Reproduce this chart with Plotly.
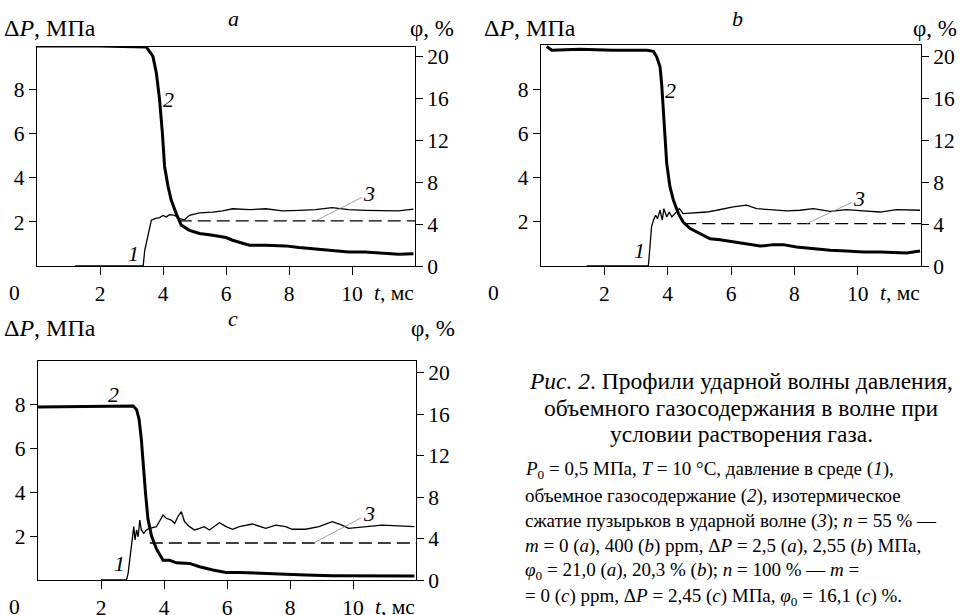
import plotly.graph_objects as go

W, H = 960, 615
FONT = "Liberation Serif"

# ---------------- data (t in ms, dP in MPa, phi in %) ----------------
# panel a
ta_phi = [0.0, 2.0, 3.47, 3.68, 3.79, 3.89, 3.98, 4.05, 4.16, 4.26, 4.42, 4.58, 4.84, 5.16, 5.58,
          6.0, 6.21, 6.74, 7.26, 7.89, 8.32, 9.37, 9.89, 10.42, 10.95, 11.47, 11.95]
phi_a = [21.0, 21.0, 20.9, 20.0, 18.4, 15.9, 12.7, 9.5, 7.6, 6.3, 5.0, 3.9, 3.4, 3.1, 2.94,
         2.72, 2.46, 1.98, 1.98, 1.92, 1.76, 1.5, 1.34, 1.34, 1.25, 1.12, 1.18]
ta_p = [1.21, 3.37, 3.42, 3.53, 3.63, 3.74, 3.89, 4.0, 4.1, 4.21, 4.37, 4.53, 4.68, 4.84, 5.16,
        5.58, 5.89, 6.21, 6.74, 7.26, 7.79, 8.32, 8.84, 9.37, 9.89, 10.42, 10.95, 11.47, 11.95]
p_a = [0.0, 0.0, 0.71, 1.47, 2.08, 2.15, 2.2, 2.3, 2.23, 2.33, 2.3, 2.15, 2.1, 2.3, 2.41,
       2.45, 2.5, 2.6, 2.56, 2.6, 2.5, 2.53, 2.56, 2.65, 2.56, 2.53, 2.5, 2.5, 2.58]
ta_iso = [4.5, 12.0]
iso_a = [4.31, 4.31]

# panel b
tb_phi = [0.18, 0.34, 1.23, 2.28, 3.34, 3.55, 3.65, 3.76, 3.81, 3.86, 3.92, 3.97, 4.07, 4.18, 4.34,
          4.49, 4.71, 5.02, 5.34, 5.65, 6.07, 6.49, 6.92, 7.34, 7.65, 8.07, 8.6, 9.13, 9.65, 10.18,
          10.71, 11.55, 11.97]
phi_b = [20.96, 20.6, 20.7, 20.6, 20.6, 20.5, 20.0, 19.0, 17.4, 14.9, 12.0, 9.8, 7.6, 6.3, 5.0,
         4.2, 3.57, 3.1, 2.6, 2.5, 2.3, 2.04, 1.9, 2.04, 2.04, 1.82, 1.66, 1.5, 1.44, 1.34,
         1.34, 1.24, 1.44]
tb_p = [1.44, 3.39, 3.44, 3.49, 3.55, 3.62, 3.68, 3.76, 3.83, 3.88, 3.97, 4.05, 4.13, 4.23, 4.37,
        4.49, 4.81, 5.23, 5.55, 6.07, 6.49, 6.81, 7.23, 7.76, 8.18, 8.6, 9.13, 9.65, 10.18, 10.71,
        11.23, 11.97]
p_b = [0.0, 0.0, 0.86, 1.77, 2.08, 2.3, 2.15, 2.53, 2.08, 2.6, 2.23, 2.45, 2.23, 2.38, 2.6,
       2.38, 2.41, 2.45, 2.53, 2.68, 2.76, 2.6, 2.56, 2.5, 2.53, 2.6, 2.48, 2.56, 2.5, 2.45,
       2.56, 2.53]
tb_iso = [4.49, 12.0]
iso_b = [4.05, 4.05]

# panel c
tc_phi = [0.0, 1.97, 3.02, 3.13, 3.21, 3.28, 3.34, 3.41, 3.49, 3.6, 3.76, 3.97, 4.18, 4.39, 4.81,
          5.13, 5.55, 5.97, 6.39, 7.02, 7.76, 8.49, 9.34, 10.39, 11.95]
phi_c = [16.7, 16.8, 16.8, 16.45, 15.5, 13.6, 11.0, 8.5, 5.9, 4.3, 3.0, 1.9, 1.9, 1.66, 1.6,
         1.28, 0.96, 0.73, 0.73, 0.64, 0.54, 0.48, 0.42, 0.42, 0.38]
tc_p = [2.0, 2.81, 2.86, 2.94, 3.0, 3.04, 3.08, 3.13, 3.18, 3.23, 3.28, 3.36, 3.44, 3.55, 3.76,
        3.86, 3.97, 4.07, 4.23, 4.34, 4.44, 4.55, 4.65, 4.81, 4.97, 5.13, 5.28, 5.44, 5.76, 5.97,
        6.18, 6.39, 6.81, 7.23, 7.55, 7.86, 8.07, 8.49, 8.92, 9.34, 9.65, 9.86, 10.39, 10.92,
        11.44, 11.95]
p_c = [0.0, 0.0, 0.3, 1.21, 2.12, 2.43, 1.82, 2.28, 1.97, 2.73, 2.28, 2.12, 2.28, 2.35, 2.43,
       2.66, 2.96, 2.81, 2.73, 2.58, 2.88, 3.11, 2.66, 2.43, 2.28, 2.35, 2.43, 2.28, 2.61, 2.43,
       2.31, 2.43, 2.55, 2.35, 2.5, 2.43, 2.31, 2.31, 2.43, 2.66, 2.5, 2.35, 2.43, 2.5,
       2.46, 2.43]
tc_iso = [3.55, 12.0]
iso_c = [3.58, 3.58]

x_ticks = [2, 4, 6, 8, 10]
yl_ticks = [2, 4, 6, 8]
yr_ticks = [0, 4, 8, 12, 16, 20]

# ---------------- layout helpers ----------------
def px(x):
    return x / W

def py(y):
    return 1 - y / H

panels = [
    dict(xa="x", yl="y", yr="y2", xd=(37, 415), yd=(47, 266), lmax=9.95, rmax=20.9,
         tphi=ta_phi, phi=phi_a, tp=ta_p, p=p_a, tiso=ta_iso, iso=iso_a,
         lab1=(3.05, 0.56), lab2=(4.18, 15.9), lab3=(10.55, 6.9), tgt3=(8.84, 4.31),
         ox=0, oy=0, letter="a", letx=233),
    dict(xa="x2", yl="y3", yr="y4", xd=(541, 921), yd=(45, 266), lmax=10.03, rmax=21.1,
         tphi=tb_phi, phi=phi_b, tp=tb_p, p=p_b, tiso=tb_iso, iso=iso_b,
         lab1=(3.11, 0.71), lab2=(4.09, 16.8), lab3=(10.05, 6.4), tgt3=(8.39, 4.05),
         ox=480, oy=0, letter="b", letx=737),
    dict(xa="x3", yl="y5", yr="y6", xd=(38, 416), yd=(361, 580), lmax=9.97, rmax=21.15,
         tphi=tc_phi, phi=phi_c, tp=tc_p, p=p_c, tiso=tc_iso, iso=iso_c,
         lab1=(2.6, 0.76), lab2=(2.39, 17.9), lab3=(10.5, 6.4), tgt3=(8.76, 3.58),
         ox=0, oy=300, letter="c", letx=233),
]

fig = go.Figure()
annotations = []
layout = {}

TICKFONT = dict(family=FONT, size=21.5, color="black")

for pn in panels:
    xa, yl, yr = pn["xa"], pn["yl"], pn["yr"]
    fig.add_trace(go.Scatter(x=pn["tp"], y=pn["p"], xaxis=xa, yaxis=yl, mode="lines",
                             line=dict(color="black", width=1.3), showlegend=False, hoverinfo="skip"))
    fig.add_trace(go.Scatter(x=pn["tiso"], y=pn["iso"], xaxis=xa, yaxis=yr, mode="lines",
                             line=dict(color="black", width=1.4, dash="13px,6px"),
                             showlegend=False, hoverinfo="skip"))
    fig.add_trace(go.Scatter(x=pn["tphi"], y=pn["phi"], xaxis=xa, yaxis=yr, mode="lines",
                             line=dict(color="black", width=3), showlegend=False, hoverinfo="skip"))

    xk = "xaxis" if xa == "x" else "xaxis" + xa[1:]
    ylk = "yaxis" if yl == "y" else "yaxis" + yl[1:]
    yrk = "yaxis" + yr[1:]
    x0, x1 = pn["xd"]
    yt, yb = pn["yd"]
    layout[xk] = dict(domain=[px(x0), px(x1)], range=[0, 12], anchor=yl,
                      tickvals=x_ticks, ticks="outside", ticklen=8, tickwidth=1.2,
                      showline=True, mirror=True, linecolor="black", linewidth=1.3,
                      showgrid=False, zeroline=False, tickfont=TICKFONT, tickcolor="black",
                      automargin=False)
    layout[ylk] = dict(domain=[py(yb), py(yt)], range=[0, pn["lmax"]], anchor=xa,
                       tickvals=yl_ticks, ticks="outside", ticklen=7, tickwidth=1.2,
                       showline=True, mirror=True, linecolor="black", linewidth=1.3,
                       showgrid=False, zeroline=False, tickfont=TICKFONT, tickcolor="black",
                       automargin=False)
    layout[yrk] = dict(overlaying=yl, side="right", anchor=xa, range=[0, pn["rmax"]],
                       tickvals=yr_ticks, ticks="outside", ticklen=7, tickwidth=1.2,
                       showline=False, showgrid=False, zeroline=False,
                       tickfont=TICKFONT, tickcolor="black", automargin=False)

    ox, oy = pn["ox"], pn["oy"]
    annotations += [
        dict(x=px(ox + 2), y=py(oy + 28), xref="paper", yref="paper", xanchor="left",
             yanchor="middle", text="Δ<i>P</i>, МПа", showarrow=False,
             font=dict(family=FONT, size=24, color="black")),
        dict(x=px(min(x1 + 41, 959)), y=py(oy + 28), xref="paper", yref="paper", xanchor="right",
             yanchor="middle", text="φ, %", showarrow=False,
             font=dict(family=FONT, size=23, color="black")),
        dict(x=px(pn["letx"]), y=py(oy + 18), xref="paper", yref="paper", xanchor="center",
             yanchor="middle", text="<i>" + pn["letter"] + "</i>", showarrow=False,
             font=dict(family=FONT, size=22, color="black")),
        dict(x=px(ox + 14), y=py(yb + 27), xref="paper", yref="paper", xanchor="center",
             yanchor="middle", text="0", showarrow=False, font=TICKFONT),
        dict(x=px(x1 - 43), y=py(yb + 27), xref="paper", yref="paper", xanchor="left",
             yanchor="middle", text="<i>t</i>, мс", showarrow=False, font=TICKFONT),
        dict(x=pn["lab1"][0], y=pn["lab1"][1], xref=xa, yref=yl, text="<i>1</i>",
             showarrow=False, font=dict(family=FONT, size=22, color="black")),
        dict(x=pn["lab2"][0], y=pn["lab2"][1], xref=xa, yref=yr, text="<i>2</i>",
             showarrow=False, font=dict(family=FONT, size=22, color="black")),
        dict(x=pn["tgt3"][0], y=pn["tgt3"][1], xref=xa, yref=yr, text="<i>3</i>",
             showarrow=True, ax=pn["lab3"][0], ay=pn["lab3"][1], axref=xa, ayref=yr,
             arrowhead=0, arrowwidth=0.8, arrowcolor="#888888", standoff=0,
             font=dict(family=FONT, size=22, color="black")),
    ]

CAP = dict(family=FONT, size=23.5, color="black")
cap_lines = [
    (381, "<i>Рис. 2</i>. Профили ударной волны давления,"),
    (408, "объемного газосодержания в волне при"),
    (434, "условии растворения газа."),
]
for y, t in cap_lines:
    annotations.append(dict(x=px(741), y=py(y), xref="paper", yref="paper", xanchor="center",
                            yanchor="middle", text=t, showarrow=False, font=CAP))

SMALL = dict(family=FONT, size=19, color="black")
small_lines = [
    (470, "<i>P</i><sub>0</sub> = 0,5 МПа, <i>T</i> = 10 °C, давление в среде (<i>1</i>),"),
    (496, "объемное газосодержание (<i>2</i>), изотермическое"),
    (521, "сжатие пузырьков в ударной волне (<i>3</i>); <i>n</i> = 55 % —"),
    (546, "<i>m</i> = 0 (<i>a</i>), 400 (<i>b</i>) ppm, Δ<i>P</i> = 2,5 (<i>a</i>), 2,55 (<i>b</i>) МПа,"),
    (571, "<i>φ</i><sub>0</sub> = 21,0 (<i>a</i>), 20,3 % (<i>b</i>); <i>n</i> = 100 % — <i>m</i> ="),
    (597, "= 0 (<i>c</i>) ppm, Δ<i>P</i> = 2,45 (<i>c</i>) МПа, <i>φ</i><sub>0</sub> = 16,1 (<i>c</i>) %."),
]
for y, t in small_lines:
    annotations.append(dict(x=px(523), y=py(y), xref="paper", yref="paper", xanchor="left",
                            yanchor="middle", text=t, showarrow=False, font=SMALL))

fig.update_layout(width=W, height=H, margin=dict(l=0, r=0, t=0, b=0, autoexpand=False),
                  paper_bgcolor="white", plot_bgcolor="white",
                  font=dict(family=FONT, color="black"),
                  annotations=annotations, **layout)

fig.write_html("out.html", config={"displayModeBar": False},
               post_script="document.body.style.margin='0';document.body.style.overflow='hidden';")
